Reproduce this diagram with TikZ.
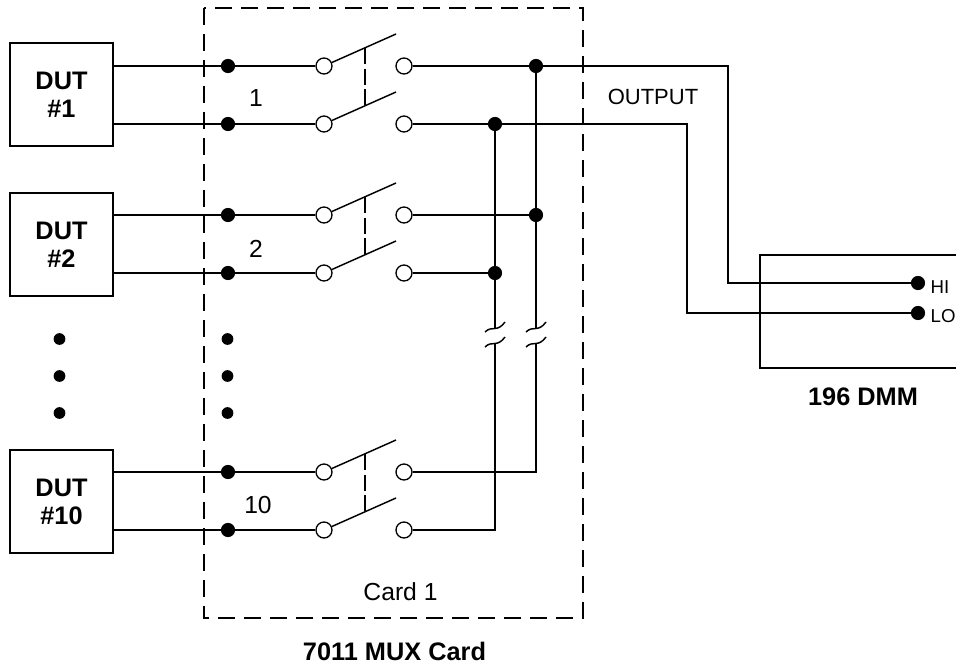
\documentclass[tikz,border=0pt]{standalone}
\usepackage{fontspec}
\setmainfont{Liberation Sans}
\tikzset{
  dutbox/.style={draw,line width=1.2pt,minimum width=77pt,minimum height=77pt,inner sep=0pt,
    align=center,font=\fontsize{19}{21}\selectfont\bfseries},
  junction/.style={circle,fill=black,draw=black,inner sep=0pt,minimum size=9.5pt},
  gapdot/.style={circle,fill=black,inner sep=0pt,minimum size=8.8pt},
  contact/.style={circle,fill=white,draw=black,line width=1pt,inner sep=0pt,minimum size=12pt},
  caption/.style={inner sep=0pt,font=\fontsize{19}{22}\selectfont\bfseries},
  plain/.style={inner sep=0pt,font=\fontsize{18.5}{22}\selectfont},
  small/.style={inner sep=0pt,font=\fontsize{14}{17}\selectfont},
}
\begin{document}
\begin{tikzpicture}[x=.75pt,y=-.75pt,line width=1.1pt]
  \useasboundingbox (0,0) rectangle (956,664);

  % card and meter outlines
  \draw[dash pattern=on 12.5pt off 7pt] (204,8) rectangle (583,618);
  \draw (956,255) -- (760,255) -- (760,368) -- (956,368);

  \node[dutbox] (dut1)  at (61.5,94.5) {DUT\\\#1};
  \node[dutbox] (dut2)  at (61.5,244.5) {DUT\\\#2};
  \node[dutbox] (dut10) at (61.5,501.5) {DUT\\\#10};

  \begin{scope}[every node/.style={junction}]
    \node (j1a)  at (228,66)  {};
    \node (j1b)  at (228,124) {};
    \node (j2a)  at (228,215) {};
    \node (j2b)  at (228,273) {};
    \node (j10a) at (228,472) {};
    \node (j10b) at (228,530) {};
    \node (hi1)  at (536,66)  {};
    \node (lo1)  at (495,124) {};
    \node (hi2)  at (536,215) {};
    \node (lo2)  at (495,273) {};
    \node (hi)   at (918,283) {};
    \node (lo)   at (918,313) {};
  \end{scope}

  % the dots between the channels
  \begin{scope}[every node/.style={gapdot}]
    \node (v1) at (59.5,339) {};
    \node (v2) at (59.5,376) {};
    \node (v3) at (59.5,413) {};
    \node (v4) at (227.5,339) {};
    \node (v5) at (227.5,376) {};
    \node (v6) at (227.5,413) {};
  \end{scope}

  \begin{scope}[every node/.style={contact}]
    \node (in1a)   at (324,66)  {};
    \node (in1b)   at (324,124) {};
    \node (in2a)   at (324,215) {};
    \node (in2b)   at (324,273) {};
    \node (in10a)  at (324,472) {};
    \node (in10b)  at (324,530) {};
    \node (out1a)  at (404,66)  {};
    \node (out1b)  at (404,124) {};
    \node (out2a)  at (404,215) {};
    \node (out2b)  at (404,273) {};
    \node (out10a) at (404,472) {};
    \node (out10b) at (404,530) {};
  \end{scope}

  % blade tips
  \coordinate (t1a)  at (396,34);
  \coordinate (t1b)  at (396,92);
  \coordinate (t2a)  at (396,183);
  \coordinate (t2b)  at (396,241);
  \coordinate (t10a) at (396,440);
  \coordinate (t10b) at (396,498);

  % from the DUTs to the switches
  \draw (dut1.east |- j1a) -- (j1a) -- (in1a);
  \draw (dut1.east |- j1b) -- (j1b) -- (in1b);
  \draw (dut2.east |- j2a) -- (j2a) -- (in2a);
  \draw (dut2.east |- j2b) -- (j2b) -- (in2b);
  \draw (dut10.east |- j10a) -- (j10a) -- (in10a);
  \draw (dut10.east |- j10b) -- (j10b) -- (in10b);

  \draw (in1a) -- (t1a);
  \draw (in1b) -- (t1b);
  \draw (in2a) -- (t2a);
  \draw (in2b) -- (t2b);
  \draw (in10a) -- (t10a);
  \draw (in10b) -- (t10b);

  % ganged blades
  \draw[dash pattern=on 12pt off 3.5pt] (365,48) -- (365,106);
  \draw[dash pattern=on 12pt off 3.5pt] (365,197) -- (365,255);
  \draw[dash pattern=on 12pt off 3.5pt] (365,454) -- (365,512);

  % outputs
  \draw (out1a) -- (hi1) -- (728,66) -- (728,283) -- (hi);
  \draw (out1b) -- (lo1) -- (687,124) -- (687,313) -- (lo);
  \draw (out2a) -- (hi2);
  \draw (out2b) -- (lo2);

  % buses with their breaks
  \coordinate (k1) at (495,328);
  \coordinate (k2) at (495,343);
  \coordinate (k3) at (536,328);
  \coordinate (k4) at (536,343);
  \draw (lo1) -- (lo2) -- (k1);
  \draw (hi1) -- (hi2) -- (k3);
  \draw (k2) -- (495,530) -- (out10b);
  \draw (k4) -- (536,472) -- (out10a);

  \draw (485,332) .. controls (492,325) and (497,333) .. (505,322);
  \draw (485,347) .. controls (492,340) and (497,348) .. (505,337);
  \draw (526,332) .. controls (533,325) and (538,333) .. (546,322);
  \draw (526,347) .. controls (533,340) and (538,348) .. (546,337);

  % labels
  \node[plain] (n1)  at (256,98)  {1};
  \node[plain] (n2)  at (256,249) {2};
  \node[plain] (n10) at (258,505) {10};
  \node[plain] (card) at (400.5,592) {Card 1};
  \node[small,font=\fontsize{16.5}{20}\selectfont] (output) at (653,97) {OUTPUT};
  \node[small,anchor=west] (hilabel) at (930,287) {HI};
  \node[small,anchor=west] (lolabel) at (930,316) {LO};
  \node[caption] (mux) at (394.5,651) {7011 MUX Card};
  \node[caption] (dmm) at (863,397) {196 DMM};
\end{tikzpicture}
\end{document}
